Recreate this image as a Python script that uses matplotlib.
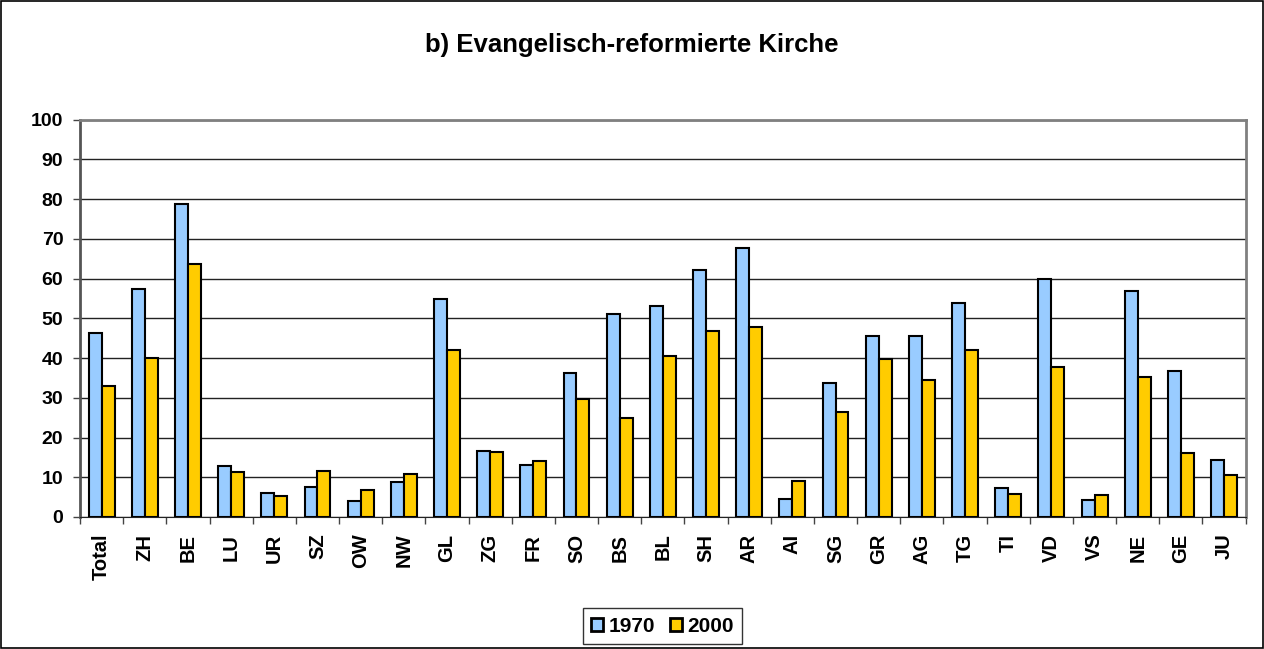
import numpy as np
import matplotlib.pyplot as plt
from matplotlib.patches import Rectangle

plt.rcParams["font.family"] = ["Liberation Sans", "DejaVu Sans"]
plt.rcParams["font.weight"] = "bold"

cantons = ["Total", "ZH", "BE", "LU", "UR", "SZ", "OW", "NW", "GL", "ZG", "FR", "SO", "BS", "BL",
           "SH", "AR", "AI", "SG", "GR", "AG", "TG", "TI", "VD", "VS", "NE", "GE", "JU"]
v1970 = [46.4, 57.5, 78.7, 12.8, 6.0, 7.6, 4.1, 8.7, 54.9, 16.7, 13.1, 36.2, 51.1, 53.2,
         62.2, 67.7, 4.5, 33.7, 45.5, 45.6, 53.9, 7.3, 59.8, 4.3, 56.8, 36.8, 14.3]
v2000 = [33.0, 39.9, 63.6, 11.2, 5.2, 11.7, 6.9, 10.7, 42.0, 16.3, 14.2, 29.6, 25.0, 40.4,
         46.7, 47.9, 9.1, 26.3, 39.8, 34.6, 42.0, 5.7, 37.8, 5.5, 35.2, 16.1, 10.5]
series = ["1970", "2000"]
colors = ["#99ccff", "#ffcc00"]

fig = plt.figure(figsize=(12.64, 6.49), dpi=100)
ax = fig.add_axes([0.0633, 0.2034, 0.9222, 0.6122])

x = np.arange(len(cantons))
w = 0.3
ax.bar(x - w/2, v1970, w, color=colors[0], edgecolor="black", linewidth=1.5, label=series[0], zorder=3)
ax.bar(x + w/2, v2000, w, color=colors[1], edgecolor="black", linewidth=1.5, label=series[1], zorder=3)

ax.set_ylim(0, 100)
ax.set_xlim(-0.5, len(cantons) - 0.5)
ax.set_yticks(np.arange(0, 101, 10))
ax.yaxis.grid(True, color="#222222", linewidth=1)
ax.set_axisbelow(True)

ax.set_xticks(x)
ax.set_xticklabels(cantons, rotation=90, fontsize=14.5, fontweight="bold")
ax.tick_params(axis="x", length=0, pad=12)
ax.set_xticks(np.arange(-0.5, len(cantons)), minor=True)
ax.tick_params(axis="x", which="minor", length=5, width=1, color="#444444")
ax.tick_params(axis="y", labelsize=14, length=5, width=1, color="#444444", pad=7)
for lbl in ax.get_yticklabels():
    lbl.set_fontweight("bold")

for s in ["top", "right"]:
    ax.spines[s].set_color("#808080")
    ax.spines[s].set_linewidth(2)
ax.spines["left"].set_color("#555555")
ax.spines["left"].set_linewidth(2)
ax.spines["bottom"].set_color("#222222")

fig.text(0.5, 1 - 52/649, "b) Evangelisch-reformierte Kirche", ha="center", va="baseline",
         fontsize=18.5, fontweight="bold")

leg = fig.legend(loc="lower center", bbox_to_anchor=(0.524, -0.002), ncol=2, frameon=True,
                 fancybox=False, edgecolor="black", fontsize=15, handlelength=0.6, handleheight=0.6,
                 handletextpad=0.25, columnspacing=0.7, borderpad=0.4, borderaxespad=0.3)
leg.get_frame().set_linewidth(1)
for h in leg.legend_handles:
    h.set_linewidth(2)

fig.add_artist(Rectangle((0.0008, 0.0015), 0.9984, 0.997, transform=fig.transFigure,
                         fill=False, edgecolor="black", linewidth=1.2))

fig.savefig("out.png", dpi=100)
